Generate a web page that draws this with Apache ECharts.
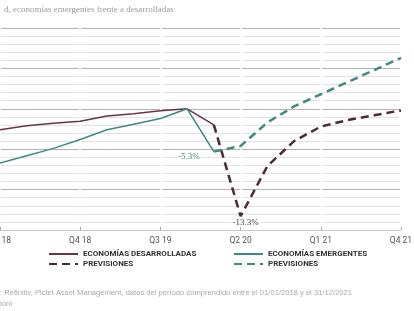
<!DOCTYPE html>
<html>
<head>
<meta charset="utf-8">
<script src="https://cdn.jsdelivr.net/npm/echarts@6/dist/echarts.min.js"></script>
<style>
html,body{margin:0;padding:0;background:#fff;}
#chart{width:414px;height:311px;}
</style>
</head>
<body>
<div id="chart"></div>
<script>
// ---- Data (index, Q4 2019 = 100) ----
var quarters = ['Q1 18','Q2 18','Q3 18','Q4 18','Q1 19','Q2 19','Q3 19','Q4 19','Q1 20','Q2 20','Q3 20','Q4 20','Q1 21','Q2 21','Q3 21','Q4 21'];
var devActual   = [97.4, 97.9, 98.2, 98.45, 99.1, 99.4, 99.75, 100, 98.0];          // Q1 18 .. Q1 20
var devForecast = [98.0, 86.7, 92.9, 96.0, 97.8, 98.6, 99.2, 99.8];                   // Q1 20 .. Q4 21
var emActual    = [93.3, 94.2, 95.1, 96.2, 97.4, 98.1, 98.8, 100, 94.7];              // Q1 18 .. Q1 20
var emForecast  = [94.7, 95.4, 98.3, 100.3, 101.8, 103.3, 104.8, 106.3];              // Q1 20 .. Q4 21
var annotations = ['-5.3%', '-13.3%'];
var titleText = 'd, economías emergentes frente a desarrolladas';
var sourceLine1 = ': Refinitiv, Pictet Asset Management, datos del período comprendido entre el 01/01/2018 y el 31/12/2021';
var sourceLine2 = 'ioni';

var MAROON = '#6b3446', MAROON_D = '#4e2a38', TEAL = '#3b8c80', TEAL_D = '#3d8c7e';

function pad(arr, before, total) {
  var out = [];
  for (var i = 0; i < before; i++) out.push(null);
  for (var j = 0; j < arr.length; j++) out.push(arr[j]);
  while (out.length < total) out.push(null);
  return out;
}
var n = quarters.length;
var devActualData = pad(devActual, 0, n);
var emActualData = pad(emActual, 0, n);
var devForecastData = pad(devForecast, 8, n);
var emForecastData = pad(emForecast, 8, n);

var labelFont = {fontFamily: 'Liberation Serif', fontSize: 9, backgroundColor: '#fff', padding: [0, 1]};
emActualData[8] = {value: emActualData[8], label: Object.assign({show: true, position: 'left', distance: 13, offset: [0, 5], color: TEAL, formatter: annotations[0]}, labelFont)};
devForecastData[9] = {value: devForecastData[9], label: Object.assign({show: true, position: 'bottom', distance: 2, offset: [5, 0], color: '#444', formatter: annotations[1]}, labelFont)};

var chart = echarts.init(document.getElementById('chart'), null, {renderer: 'canvas'});
var legendText = {fontFamily: 'Roboto', fontWeight: 'bold', fontSize: 8, color: '#333'};
var legendItemStyle = {color: 'rgba(0,0,0,0)', borderWidth: 0, opacity: 0};
var sym = {symbol: 'circle', symbolSize: 0, showSymbol: true, showAllSymbol: true};
chart.setOption({
  animation: false,
  backgroundColor: '#fff',
  title: {
    text: titleText, left: -1, top: 0,
    textStyle: {fontFamily: 'Liberation Serif', fontSize: 9, fontWeight: 'normal', color: '#9a9a9a'}
  },
  grid: {left: 0, right: 13, top: 28, bottom: 81, containLabel: false, outerBoundsMode: 'none'},
  xAxis: {
    type: 'category', data: quarters, boundaryGap: false,
    axisLine: {show: true, lineStyle: {color: '#c8c8c8', width: 1}},
    axisTick: {show: true, inside: true, length: 3, interval: 2, lineStyle: {color: '#aaa'}},
    axisLabel: {interval: 2, margin: 6, color: '#555', fontFamily: 'Roboto', fontSize: 8.5},
    splitLine: {show: true, interval: 2, lineStyle: {color: '#fff', width: 2}}
  },
  yAxis: {
    type: 'value', min: 85, max: 110, interval: 5,
    axisLine: {show: false}, axisTick: {show: false}, axisLabel: {show: false},
    splitLine: {show: true, lineStyle: {color: '#b3b3b3', width: 1}},
    minorTick: {show: false, splitNumber: 5},
    minorSplitLine: {show: true, lineStyle: {color: '#e2e2e2', width: 1}}
  },
  legend: [
    {left: 48, top: 250, padding: 0, orient: 'vertical', itemWidth: 29, itemHeight: 8, itemGap: 2, itemStyle: legendItemStyle,
     data: ['ECONOMÍAS DESARROLLADAS', 'PREVISIONES'], textStyle: legendText},
    {left: 233, top: 250, padding: 0, orient: 'vertical', itemWidth: 29, itemHeight: 8, itemGap: 2, itemStyle: legendItemStyle,
     data: ['ECONOMÍAS EMERGENTES', 'PREVISIONES '], textStyle: legendText}
  ],
  series: [
    Object.assign({name: 'ECONOMÍAS DESARROLLADAS', type: 'line', data: devActualData, z: 3,
     lineStyle: {color: MAROON, width: 1.5}, itemStyle: {color: MAROON}}, sym),
    Object.assign({name: 'PREVISIONES', type: 'line', data: devForecastData, z: 3,
     lineStyle: {color: MAROON_D, width: 2.5, type: [8, 5]}, itemStyle: {color: MAROON_D}}, sym),
    Object.assign({name: 'ECONOMÍAS EMERGENTES', type: 'line', data: emActualData, z: 3,
     lineStyle: {color: TEAL, width: 1.5}, itemStyle: {color: TEAL}}, sym),
    Object.assign({name: 'PREVISIONES ', type: 'line', data: emForecastData, z: 3,
     lineStyle: {color: TEAL_D, width: 2.5, type: [8, 5]}, itemStyle: {color: TEAL_D}}, sym)
  ],
  graphic: [
    {type: 'text', left: 0, top: 289, style: {text: sourceLine1, fill: '#aaa', font: '7.6px "Liberation Sans"'}},
    {type: 'text', left: 0, top: 300, style: {text: sourceLine2, fill: '#aaa', font: '7.6px "Liberation Sans"'}}
  ]
});
</script>
</body>
</html>
